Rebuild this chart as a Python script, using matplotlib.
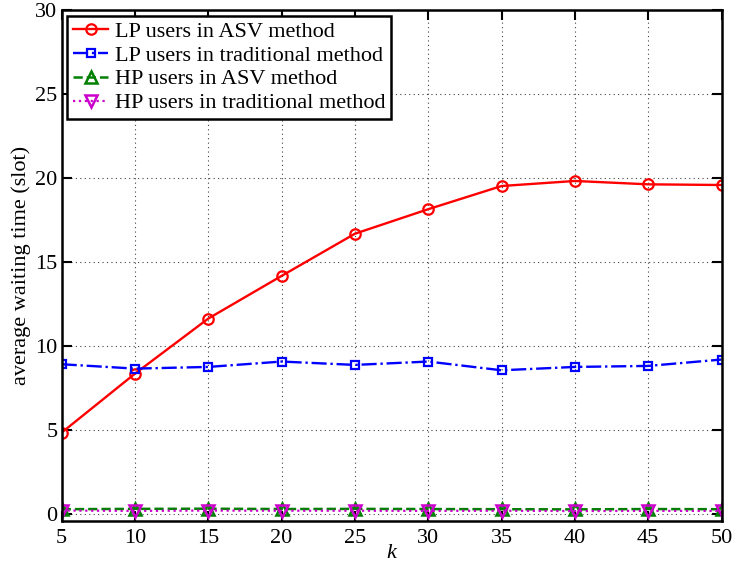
# Tiempo medio de espera: usuarios LP / HP, metodo ASV vs tradicional

import matplotlib
matplotlib.use("Agg")
import matplotlib.pyplot as plt

# Datos
k = [5, 10, 15, 20, 25, 30, 35, 40, 45, 50]
lp_asv = [4.84, 8.35, 11.63, 14.17, 16.68, 18.14, 19.52, 19.82, 19.62, 19.58]
lp_trad = [8.91, 8.65, 8.75, 9.07, 8.87, 9.07, 8.55, 8.75, 8.81, 9.19]
hp_asv = [0.28, 0.30, 0.31, 0.29, 0.30, 0.29, 0.28, 0.27, 0.29, 0.28]
hp_trad = [0.20, 0.18, 0.20, 0.19, 0.19, 0.18, 0.19, 0.17, 0.18, 0.18]

plt.rcParams["font.family"] = ["Liberation Serif", "DejaVu Serif"]
plt.rcParams["font.size"] = 16

fig = plt.figure(figsize=(7.34, 5.69), dpi=100)
ax = fig.add_axes([0.084, 0.085, 0.899, 0.8975])

ax.plot(k, lp_asv, "-o", color="red", lw=1.7, ms=7.5, mfc="none", mew=1.6,
        label="LP users in ASV method")
ax.plot(k, lp_trad, "-.s", color="blue", lw=1.7, ms=6, mfc="none", mew=1.6,
        label="LP users in traditional method")
ax.plot(k, hp_asv, "--^", color="green", lw=1.8, ms=8, mfc="none", mew=1.8,
        label="HP users in ASV method")
ax.plot(k, hp_trad, ":v", color="#cc00cc", lw=1.6, ms=8.5, mfc="none", mew=1.8,
        label="HP users in traditional method")

ax.set_xlim(5, 50)
ax.set_ylim(-0.4, 30)
ax.set_xticks(k)
ax.set_yticks(range(0, 31, 5))
ax.grid(True, linestyle=(0, (1, 3)), color="#444444", lw=0.8)
ax.tick_params(direction="in", top=True, right=True, length=7, width=1.5)
ax.tick_params(axis="x", pad=6)
ax.tick_params(axis="y", pad=3)
for s in ax.spines.values():
    s.set_linewidth(1.8)

ax.set_xlabel("k", fontstyle="italic", labelpad=-3)
ax.set_ylabel("average waiting time (slot)", labelpad=3)

leg = ax.legend(loc="upper left", fancybox=False, edgecolor="black",
                framealpha=1, handlelength=1.6, handletextpad=0.3,
                labelspacing=0.15, borderaxespad=0.25, borderpad=0.25)
leg.get_frame().set_linewidth(1.8)

fig.savefig("out.png", dpi=100)
